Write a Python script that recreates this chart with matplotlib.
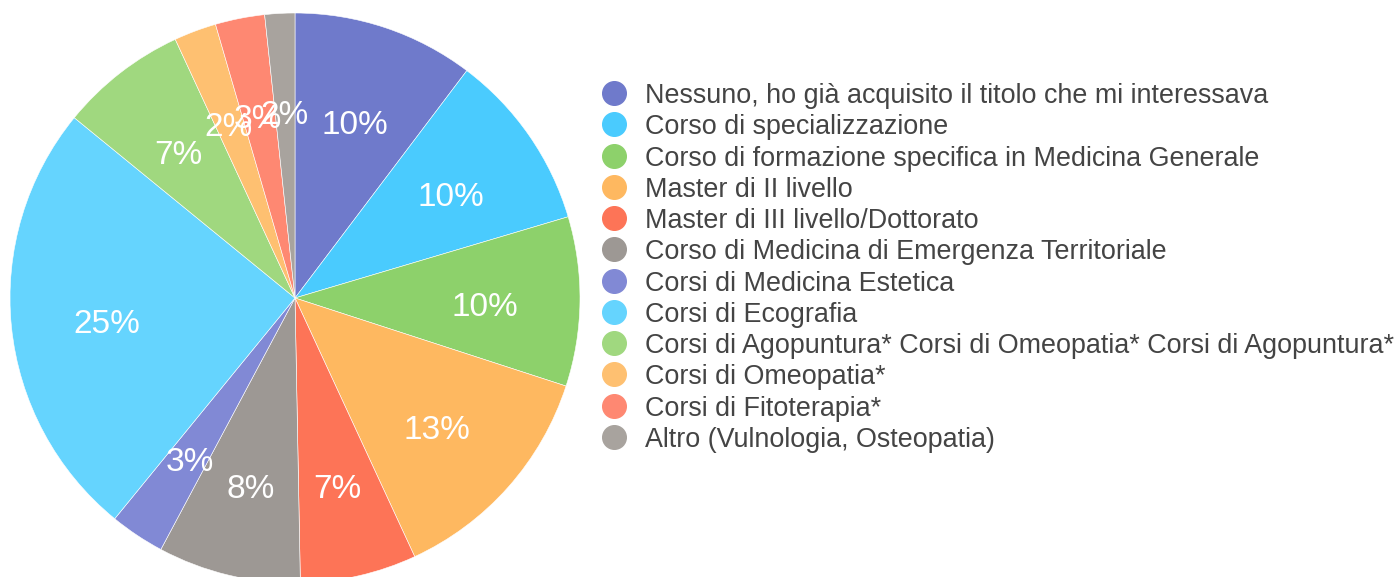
import matplotlib
matplotlib.use("Agg")
import matplotlib.pyplot as plt

plt.rcParams["font.family"] = ["Liberation Sans", "DejaVu Sans"]

labels = [
    "Nessuno, ho già acquisito il titolo che mi interessava",
    "Corso di specializzazione",
    "Corso di formazione specifica in Medicina Generale",
    "Master di II livello",
    "Master di III livello/Dottorato",
    "Corso di Medicina di Emergenza Territoriale",
    "Corsi di Medicina Estetica",
    "Corsi di Ecografia",
    "Corsi di Agopuntura* Corsi di Omeopatia* Corsi di Agopuntura*",
    "Corsi di Omeopatia*",
    "Corsi di Fitoterapia*",
    "Altro (Vulnologia, Osteopatia)",
]
shares = [10.3, 10.1, 9.6, 13.1, 6.6, 8.1, 3.1, 25.0, 7.2, 2.4, 2.8, 1.7]
colors = [
    "#6F7ACB", "#4ACBFE", "#8DD16B", "#FEB860", "#FD7457", "#9D9894",
    "#8189D5", "#65D4FE", "#A0D87F", "#FEC071", "#FE8872", "#A8A39E",
]

W, H = 1399, 577
fig = plt.figure(figsize=(W / 100, H / 100), dpi=100)

# pie centre (295, 298) px from top, radius 285 px
cx, cy, r = 295, H - 298, 285
ax = fig.add_axes([(cx - r) / W, (cy - r) / H, 2 * r / W, 2 * r / H])
wedges, texts, autotexts = ax.pie(
    shares,
    colors=colors,
    startangle=90,
    counterclock=False,
    autopct="%.0f%%",
    pctdistance=0.665,
    wedgeprops=dict(edgecolor="white", linewidth=0.4),
    textprops=dict(color="white", fontsize=24),
)
# the reference sits its percent labels a little below the wedge centroid
for t in autotexts:
    x, y = t.get_position()
    t.set_position((x, y - 0.025))
ax.set_xlim(-1, 1)
ax.set_ylim(-1, 1)
ax.set_aspect("equal")

# legend drawn by hand: marker column and text column
top, step = 93, 31.27
for i, (lab, col) in enumerate(zip(labels, colors)):
    y = 1 - (top + i * step) / H
    fig.add_artist(plt.Line2D([614 / W], [y], marker="o", markersize=17,
                              color=col, linestyle="none",
                              transform=fig.transFigure))
    fig.text(645 / W, y, lab, fontsize=19.4, color="#444444",
             va="center_baseline", ha="left")

fig.savefig("out.png", dpi=100)
plt.close(fig)
